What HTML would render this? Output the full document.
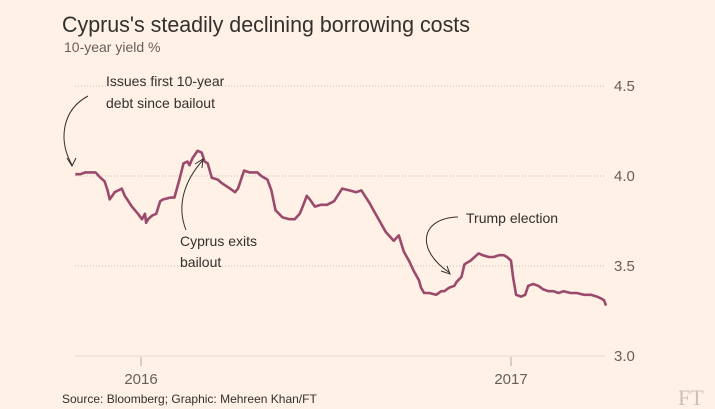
<!DOCTYPE html>
<html><head><meta charset="utf-8">
<style>
html,body{margin:0;padding:0;background:#fff1e5;}
body{width:715px;height:409px;overflow:hidden;position:relative;font-family:"Liberation Sans",sans-serif;}
svg{position:absolute;left:0;top:0;}
</style></head>
<body>
<svg id="chart" width="715" height="409">
<text x="62" y="32" font-size="22" fill="#33302e" textLength="408" lengthAdjust="spacingAndGlyphs">Cyprus's steadily declining borrowing costs</text>
<text x="64" y="52" font-size="14" fill="#66605c">10-year yield %</text>
<g id="grid"></g>
<g id="xaxis"></g>
<path id="line" fill="none" stroke="#9a4a6c" stroke-width="2.6" stroke-linejoin="round"></path>
<g fill="none" stroke="#33302e" stroke-width="1">
<path d="M88 96 C62 110,58 140,72 165"/>
<path d="M67 158 L72 166 L76 158"/>
<path d="M186 230 C176 205,185 180,203 160"/>
<path d="M195 164 L203 159 L202 168"/>
<path d="M458 217 C420 218,415 250,450 273"/>
<path d="M441 271 L450 274 L447 266"/>
</g>
<g font-size="14" fill="#33302e">
<text x="106" y="86">Issues first 10-year</text>
<text x="106" y="108">debt since bailout</text>
<text x="180" y="246">Cyprus exits</text>
<text x="180" y="267">bailout</text>
<text x="466" y="223">Trump election</text>
</g>
<text x="62" y="403" font-size="12" fill="#33302e">Source: Bloomberg; Graphic: Mehreen Khan/FT</text>
<text x="678" y="405" font-size="22" fill="#ccc1b7" font-family="Liberation Serif,serif">FT</text>
</svg>
<script>
// days since 2016-01-01
const days=[-65,-60,-55,-48,-45,-40,-36,-33,-31,-26,-19,-16,-9,-3,1,4,5,7,11,15,19,22,29,33,35,38,42,46,48,51,56,60,63,66,70,76,80,88,93,96,102,107,115,119,125,129,133,140,147,152,157,160,164,167,172,178,184,191,199,206,213,218,226,231,236,242,250,255,260,265,270,275,277,280,285,292,297,300,305,310,312,317,320,326,332,334,338,344,349,354,359,362,366,368,371,376,380,383,388,393,398,403,408,413,418,425,431,438,445,451,455,458,460];
const yields=[4.01,4.01,4.02,4.02,4.02,3.99,3.97,3.92,3.87,3.91,3.93,3.89,3.83,3.79,3.76,3.79,3.74,3.76,3.78,3.79,3.86,3.87,3.88,3.88,3.92,3.98,4.07,4.08,4.06,4.10,4.14,4.13,4.08,4.07,3.99,3.98,3.96,3.93,3.91,3.93,4.03,4.02,4.02,4.00,3.98,3.92,3.81,3.77,3.76,3.76,3.79,3.83,3.89,3.87,3.83,3.84,3.84,3.86,3.93,3.92,3.91,3.92,3.85,3.80,3.75,3.69,3.64,3.67,3.58,3.53,3.47,3.42,3.38,3.35,3.35,3.34,3.36,3.36,3.38,3.39,3.41,3.44,3.51,3.53,3.56,3.57,3.56,3.55,3.55,3.56,3.56,3.55,3.53,3.44,3.34,3.33,3.34,3.39,3.40,3.39,3.37,3.36,3.36,3.35,3.36,3.35,3.35,3.34,3.34,3.33,3.32,3.31,3.28];
const yTicks=[3.0,3.5,4.0,4.5];
const yTickLabels=["3.0","3.5","4.0","4.5"];
const xTicks=[0,366];
const xTickLabels=["2016","2017"];
const NS="http://www.w3.org/2000/svg";
const X=d=>141+d*(370/366);
const Y=v=>176-(v-4)*180;
const grid=document.getElementById('grid');
yTicks.forEach((t,i)=>{
  const l=document.createElementNS(NS,'line');
  l.setAttribute('x1',75);l.setAttribute('x2',605);
  l.setAttribute('y1',Y(t));l.setAttribute('y2',Y(t));
  l.setAttribute('stroke',t===3?'#e6d9ce':'#c9bdb2');
  l.setAttribute('stroke-width','1');
  if(t!==3) l.setAttribute('stroke-dasharray','1 2');
  
  
  grid.appendChild(l);
  const tx=document.createElementNS(NS,'text');
  tx.setAttribute('x',614);tx.setAttribute('y',Y(t)+5);
  tx.setAttribute('font-size','15');tx.setAttribute('fill','#66605c');
  tx.textContent=yTickLabels[i];
  
  
  grid.appendChild(tx);
});
const xa=document.getElementById('xaxis');
xTicks.forEach((d,i)=>{
  const l=document.createElementNS(NS,'line');
  l.setAttribute('x1',X(d));l.setAttribute('x2',X(d));
  l.setAttribute('y1',357);l.setAttribute('y2',366);
  l.setAttribute('stroke','#b5aaa0');
  
  
  xa.appendChild(l);
  const tx=document.createElementNS(NS,'text');
  tx.setAttribute('x',X(d));tx.setAttribute('y',384);
  tx.setAttribute('text-anchor','middle');
  tx.setAttribute('font-size','15');tx.setAttribute('fill','#66605c');
  tx.textContent=xTickLabels[i];
  
  
  xa.appendChild(tx);
});
document.getElementById('line').setAttribute('d',days.map((d,i)=>(i?'L':'M')+X(d).toFixed(1)+' '+Y(yields[i]).toFixed(1)).join(' '));
</script>
</body></html>
